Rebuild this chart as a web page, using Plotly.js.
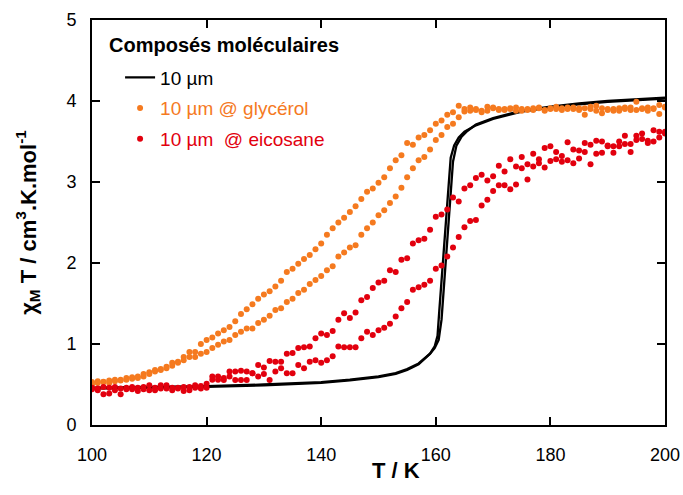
<!DOCTYPE html>
<html>
<head>
<meta charset="utf-8">
<script src="https://cdn.plot.ly/plotly-3.0.1.min.js"></script>
<style>html,body{margin:0;padding:0;background:#fff;}#chart{width:683px;height:495px;}</style>
</head>
<body>
<div id="chart"></div>
<script>
// Temperatures (K) of the measured points, one per kelvin
const T = [100,101,102,103,104,105,106,107,108,109,110,111,112,113,114,115,116,117,118,119,
120,121,122,123,124,125,126,127,128,129,130,131,132,133,134,135,136,137,138,139,
140,141,142,143,144,145,146,147,148,149,150,151,152,153,154,155,156,157,158,159,
160,161,162,163,164,165,166,167,168,169,170,171,172,173,174,175,176,177,178,179,
180,181,182,183,184,185,186,187,188,189,190,191,192,193,194,195,196,197,198,199,200];

// 10 µm @ glycérol : two branches
const glycA = [0.53,0.54,0.535,0.55,0.56,0.56,0.58,0.59,0.60,0.63,0.65,0.68,0.69,0.72,0.77,0.78,0.84,0.90,0.90,1.00,
1.05,1.08,1.13,1.17,1.21,1.28,1.37,1.43,1.49,1.56,1.61,1.65,1.71,1.78,1.89,1.93,1.99,2.05,2.10,2.17,
2.24,2.35,2.43,2.50,2.56,2.63,2.70,2.79,2.88,2.92,2.99,3.06,3.17,3.27,3.33,3.48,3.46,3.55,3.58,3.64,
3.72,3.76,3.83,3.86,3.94,3.90,3.92,3.89,3.88,3.93,3.91,3.89,3.90,3.91,3.88,3.90,3.89,3.91,3.92,3.89,
3.90,3.93,3.91,3.90,3.92,3.91,3.83,3.93,3.94,3.85,3.90,3.88,3.91,3.92,3.89,3.99,3.90,3.92,3.91,3.95,3.93];
const glycB = [0.50,0.52,0.53,0.52,0.54,0.55,0.56,0.57,0.58,0.60,0.63,0.66,0.68,0.70,0.73,0.77,0.80,0.84,0.84,0.88,
0.90,0.95,0.99,1.03,1.05,1.11,1.15,1.19,1.19,1.26,1.30,1.35,1.42,1.44,1.52,1.56,1.63,1.67,1.74,1.79,
1.84,1.91,1.96,2.08,2.13,2.19,2.22,2.35,2.43,2.50,2.59,2.65,2.74,2.82,2.93,3.06,3.17,3.27,3.31,3.40,
3.52,3.58,3.68,3.72,3.80,3.87,3.88,3.90,3.86,3.88,3.92,3.90,3.89,3.90,3.92,3.88,3.90,3.89,3.91,3.88,
3.91,3.90,3.89,3.92,3.90,3.89,3.91,3.90,3.88,3.91,3.89,3.90,3.88,3.90,3.92,3.89,3.91,3.88,3.90,3.84,3.92];

// 10 µm @ eicosane : two branches
const eicoA = [0.46,0.45,0.47,0.46,0.47,0.45,0.46,0.47,0.46,0.47,0.49,0.46,0.49,0.49,0.46,0.46,0.47,0.47,0.49,0.48,
0.51,0.60,0.60,0.58,0.66,0.66,0.67,0.66,0.64,0.74,0.71,0.79,0.78,0.78,0.88,0.89,0.95,0.96,0.97,1.07,
1.13,1.11,1.16,1.30,1.38,1.32,1.39,1.54,1.58,1.69,1.76,1.78,1.91,1.89,2.04,2.06,2.24,2.28,2.30,2.41,
2.57,2.60,2.66,2.81,2.76,2.92,2.96,3.05,3.09,3.02,3.07,3.20,3.13,3.28,3.19,3.31,3.22,3.35,3.28,3.42,
3.44,3.37,3.32,3.49,3.40,3.39,3.37,3.46,3.51,3.50,3.45,3.44,3.50,3.57,3.47,3.57,3.60,3.51,3.64,3.62,3.62];
const eicoB = [0.44,0.43,0.38,0.39,0.43,0.38,0.44,0.44,0.42,0.44,0.43,0.43,0.45,0.45,0.43,0.45,0.42,0.43,0.46,0.45,
0.46,0.56,0.56,0.555,0.60,0.555,0.555,0.555,0.64,0.60,0.63,0.555,0.66,0.70,0.64,0.64,0.74,0.70,0.78,0.80,
0.77,0.80,0.85,0.97,0.96,0.96,0.96,1.07,1.15,1.11,1.17,1.20,1.25,1.34,1.44,1.52,1.67,1.70,1.73,1.78,
1.93,1.97,2.08,2.19,2.32,2.44,2.52,2.53,2.71,2.78,2.89,2.96,2.96,2.91,2.97,3.17,3.03,3.19,3.23,3.18,
3.26,3.28,3.25,3.27,3.23,3.29,3.48,3.22,3.35,3.36,3.44,3.36,3.44,3.47,3.37,3.52,3.53,3.48,3.50,3.55,3.60];

// 10 µm : SQUID curve, cooling and warming branches
const bulkCoolT = [100,110,120,130,140,145,150,153,155,157,158,159,159.8,160.3,160.6,161.0,161.4,161.8,162.2,162.6,163.2,164,165,167,170,175,180,185,190,195,200];
const bulkCoolY = [0.45,0.46,0.47,0.49,0.52,0.55,0.59,0.63,0.68,0.75,0.81,0.88,0.97,1.10,1.40,1.80,2.20,2.60,3.00,3.30,3.45,3.55,3.62,3.70,3.78,3.87,3.92,3.96,3.99,4.01,4.03];
const bulkWarmT = [100,110,120,130,140,145,150,153,155,157,158,159,159.8,160.5,161.0,161.4,161.8,162.2,162.6,163.0,163.6,164.5,165.5,167,170,175,180,185,190,195,200];
const bulkWarmY = [0.46,0.47,0.48,0.50,0.53,0.56,0.60,0.64,0.69,0.76,0.82,0.88,0.95,1.05,1.30,1.70,2.10,2.50,2.90,3.25,3.45,3.56,3.63,3.71,3.79,3.88,3.93,3.97,4.00,4.02,4.04];

const xTicks = [100,120,140,160,180,200];
const yTicks = [0,1,2,3,4,5];

const ORANGE = '#F57A1F';
const RED = '#E2000E';
const FONT = 'Arial, "Liberation Sans", sans-serif';

const traces = [
  {
    x: bulkCoolT.concat([null], bulkWarmT),
    y: bulkCoolY.concat([null], bulkWarmY),
    mode: 'lines', type: 'scatter',
    line: {color: '#000', width: 2.3},
    name: '10 µm', legendgroup: 'a', connectgaps: false
  },
  {
    x: T.concat(T), y: glycA.concat(glycB),
    mode: 'markers', type: 'scatter',
    marker: {color: ORANGE, size: 6},
    name: '<span style="color:' + ORANGE + '">10 µm @ glycérol</span>', legendgroup: 'b'
  },
  {
    x: T.concat(T), y: eicoA.concat(eicoB),
    mode: 'markers', type: 'scatter',
    marker: {color: RED, size: 6},
    name: '<span style="color:' + RED + '">10 µm  @ eicosane</span>', legendgroup: 'c'
  }
];

const layout = {
  width: 683, height: 495,
  margin: {l: 92, r: 18, t: 20, b: 70},
  paper_bgcolor: '#fff', plot_bgcolor: '#fff',
  font: {family: FONT, size: 18, color: '#000'},
  showlegend: true,
  legend: {
    x: 0.049, y: 0.905, xanchor: 'left', yanchor: 'top',
    bgcolor: 'rgba(0,0,0,0)', font: {family: FONT, size: 19},
    tracegroupgap: 3
  },
  xaxis: {
    range: [100, 200], tickvals: xTicks, ticktext: xTicks.map(String),
    ticks: 'inside', ticklen: 8, tickwidth: 2, tickcolor: '#000',
    showline: true, linewidth: 2, linecolor: '#000', mirror: 'ticks',
    showgrid: false, zeroline: false, ticklabelstandoff: 12,
    tickfont: {family: FONT, size: 18}
  },
  yaxis: {
    range: [0, 5], tickvals: yTicks, ticktext: yTicks.map(String),
    ticks: 'inside', ticklen: 8, tickwidth: 2, tickcolor: '#000',
    showline: true, linewidth: 2, linecolor: '#000', mirror: 'ticks',
    showgrid: false, zeroline: false, ticklabelstandoff: 10,
    tickfont: {family: FONT, size: 18},
    title: {text: '<b>χ<sub>M</sub> T / cm<sup>3</sup>.K.mol<sup>-1</sup></b>', font: {family: FONT, size: 22}, standoff: 24}
  },
  annotations: [
    {text: '<b>Composés moléculaires</b>', xref: 'paper', yref: 'paper',
     x: (107 - 92) / 573, y: (425 - 45) / 405, xanchor: 'left', yanchor: 'middle',
     showarrow: false, font: {family: FONT, size: 20, color: '#000'}},
    {text: '<b>T / K</b>', xref: 'paper', yref: 'paper',
     x: (396 - 92) / 573, y: (425 - 470) / 405, xanchor: 'center', yanchor: 'middle',
     showarrow: false, font: {family: FONT, size: 22, color: '#000'}}
  ]
};

Plotly.newPlot('chart', traces, layout, {displayModeBar: false, staticPlot: true});
</script>
</body>
</html>
